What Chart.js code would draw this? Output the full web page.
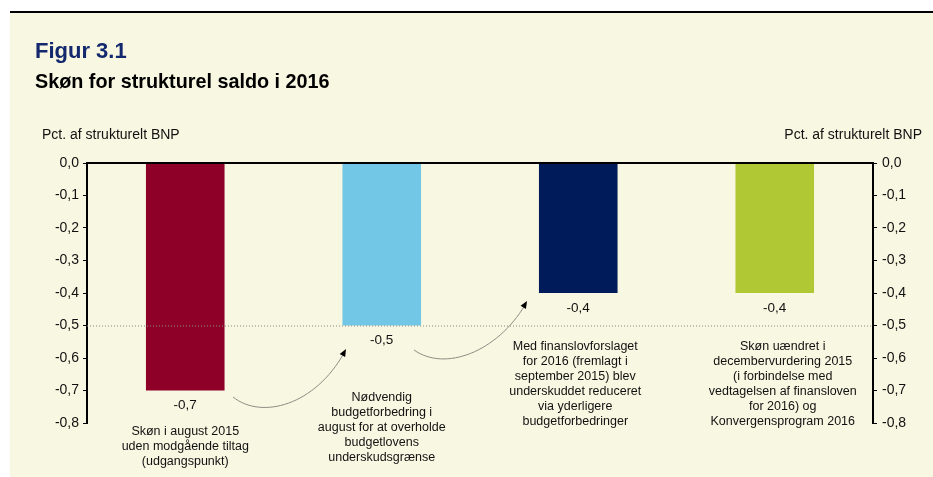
<!DOCTYPE html>
<html>
<head>
<meta charset="utf-8">
<script src="https://cdn.jsdelivr.net/npm/chart.js@4"></script>
<style>
  html, body { margin: 0; padding: 0; background: #fff; }
  #wrap { width: 933px; height: 477px; }
</style>
</head>
<body>
<div id="wrap"><canvas id="saldoChart" width="933" height="477"></canvas></div>
<script>
// data
const categories = [
    ["Skøn i august 2015", "uden modgående tiltag", "(udgangspunkt)"],
    ["Nødvendig", "budgetforbedring i", "august for at overholde", "budgetlovens", "underskudsgrænse"],
    ["Med finanslovforslaget", "for 2016 (fremlagt i", "september 2015) blev", "underskuddet reduceret", "via yderligere", "budgetforbedringer"],
    ["Skøn uændret i", "decembervurdering 2015", "(i forbindelse med", "vedtagelsen af finansloven", "for 2016) og", "Konvergensprogram 2016"]
];
const values = [-0.7, -0.5, -0.4, -0.4];
const barColors = ["#8e0028", "#72c7e7", "#001b5a", "#b0c834"];
const yTicks = [0, -0.1, -0.2, -0.3, -0.4, -0.5, -0.6, -0.7, -0.8];
const limitLine = -0.5;

const FONT = "Liberation Sans, Arial, sans-serif";
const fmt = v => (Math.round(v * 10) / 10).toFixed(1).replace(".", ",").replace("-0,0", "0,0");

// background, titles, axis headers, annotations and arrows
const decor = {
    id: "decor",
    beforeDraw(chart) {
        const c = chart.ctx;
        c.save();
        c.fillStyle = "#ffffff";
        c.fillRect(0, 0, chart.width, chart.height);
        c.fillStyle = "#f8f7e2";
        c.fillRect(10, 13, chart.width - 10, chart.height - 13);
        c.fillStyle = "#000";
        c.fillRect(10, 11, chart.width - 10, 2);

        c.textBaseline = "middle";
        c.font = "bold 22px " + FONT;
        c.fillStyle = "#14286e";
        c.fillText("Figur 3.1", 35, 52);
        c.font = "bold 19.8px " + FONT;
        c.fillStyle = "#000";
        c.fillText("Skøn for strukturel saldo i 2016", 35, 83);

        c.font = "14px " + FONT;
        c.fillStyle = "#111";
        c.textAlign = "left";
        c.fillText("Pct. af strukturelt BNP", 42, 135);
        c.textAlign = "right";
        c.fillText("Pct. af strukturelt BNP", 922, 135);
        c.restore();
    },
    afterDatasetsDraw(chart) {
        const c = chart.ctx;
        const xs = chart.scales.x, ys = chart.scales.y;
        const area = chart.chartArea;
        c.save();

        // dotted limit line
        const yl = ys.getPixelForValue(limitLine);
        c.strokeStyle = "#8a8a80";
        c.lineWidth = 1;
        c.setLineDash([1, 2]);
        c.beginPath();
        c.moveTo(area.left, yl + 0.5);
        c.lineTo(area.right, yl + 0.5);
        c.stroke();
        c.setLineDash([]);

        // top frame line
        c.fillStyle = "#000";
        c.fillRect(area.left - 1, area.top - 1, area.right - area.left + 2, 2);

        // value labels
        c.font = "13.5px " + FONT;
        c.fillStyle = "#111";
        c.textAlign = "center";
        c.textBaseline = "middle";
        values.forEach((v, i) => {
            c.fillText(fmt(v), xs.getPixelForValue(i), ys.getPixelForValue(v) + 15);
        });

        // annotation texts
        const textTop = [432, 398, 347, 347];
        const textShift = [0, 0, -3, 8];
        c.font = "12.5px " + FONT;
        categories.forEach((lines, i) => {
            const cx = xs.getPixelForValue(i) + textShift[i];
            lines.forEach((ln, j) => c.fillText(ln, cx, textTop[i] + j * 15));
        });

        // curved arrows between bars
        const arrows = [
            { from: [233, 397], c1: [262, 420], c2: [315, 405], to: [346, 349] },
            { from: [414, 350], c1: [445, 372], c2: [497, 352], to: [527, 301] }
        ];
        arrows.forEach(a => {
            c.strokeStyle = "#8d8d85";
            c.lineWidth = 1;
            c.beginPath();
            c.moveTo(a.from[0], a.from[1]);
            c.bezierCurveTo(a.c1[0], a.c1[1], a.c2[0], a.c2[1], a.to[0] - 2, a.to[1] + 4);
            c.stroke();
            const ang = Math.atan2(a.to[1] - a.c2[1], a.to[0] - a.c2[0]);
            c.fillStyle = "#000";
            c.beginPath();
            c.moveTo(a.to[0], a.to[1]);
            c.lineTo(a.to[0] - 8 * Math.cos(ang - 0.4), a.to[1] - 8 * Math.sin(ang - 0.4));
            c.lineTo(a.to[0] - 8 * Math.cos(ang + 0.4), a.to[1] - 8 * Math.sin(ang + 0.4));
            c.closePath();
            c.fill();
        });
        c.restore();
    }
};

const yAxis = (pos, width, pad) => ({
    position: pos,
    min: -0.8,
    max: 0,
    afterBuildTicks: s => { s.ticks = yTicks.map(v => ({ value: v })); },
    afterFit: s => { s.width = width; },
    ticks: {
        color: "#111",
        font: { family: FONT, size: 14 },
        padding: pad,
        callback: v => fmt(v)
    },
    grid: { drawOnChartArea: false, drawTicks: true, tickLength: 4, color: "#000" },
    border: { display: true, color: "#000", width: 2 }
});

new Chart(document.getElementById("saldoChart"), {
    type: "bar",
    data: {
        labels: categories,
        datasets: [{
            data: values,
            backgroundColor: barColors,
            categoryPercentage: 1,
            barPercentage: 0.4
        }]
    },
    options: {
        responsive: false,
        animation: false,
        devicePixelRatio: 1,
        layout: { padding: { left: 0, right: 0, top: 163, bottom: 54 } },
        plugins: { legend: { display: false }, tooltip: { enabled: false } },
        scales: {
            x: { display: false },
            y: yAxis("left", 87, 4),
            y2: yAxis("right", 60, 5)
        }
    },
    plugins: [decor]
});
</script>
</body>
</html>
